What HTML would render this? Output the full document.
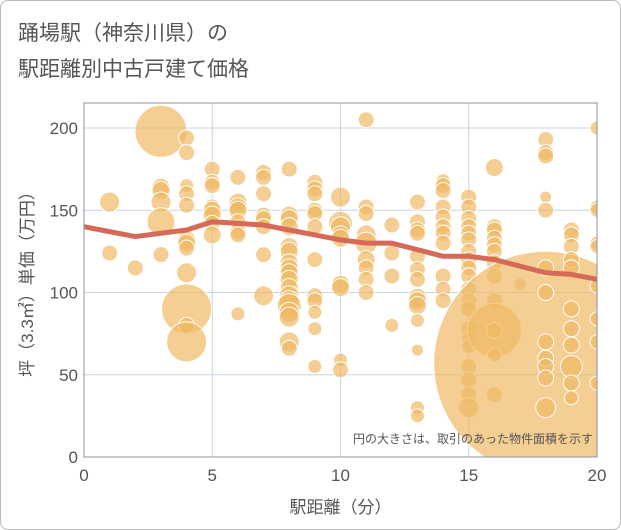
<!DOCTYPE html>
<html><head><meta charset="utf-8"><style>
body{margin:0;background:#fff;font-family:"Liberation Sans","Noto Sans CJK JP",sans-serif;}
#wrap{position:relative;width:619px;height:528px;border:1px solid #bbb;border-radius:8px;overflow:hidden;background:#fff}
.t{position:absolute;left:17px;color:#555;font-size:21px;}
</style></head><body>
<div id="wrap">
<div class="t" style="top:16px">踊場駅（神奈川県）の</div>
<div class="t" style="top:52px">駅距離別中古戸建て価格</div>
<svg id="c" width="621" height="530" style="position:absolute;left:-1px;top:-1px"></svg>
</div>
<script>
const pts=[
[1,155,10],[1,124,8],[2,115,8],
[3,198,26],[3,164,9],[3,162,9],[3,155,10],[3,143,14],[3,123,8],
[4,194,8],[4,185,8],[4,165,7],[4,160,8],[4,153,8],[4,132,9],[4,130,9],[4,127,8],[4,112,10],[4,90,25],[4,80,8],[4,70,20],
[5,175,8],[5,167,8],[5,165,8],[5,152,8],[5,150,9],[5,147,9],[5,142,8],[5,135,9],
[6,170,8],[6,155,9],[6,152,9],[6,150,9],[6,143,8],[6,137,8],[6,135,8],[6,87,7],
[7,173,8],[7,170,8],[7,160,8],[7,147,8],[7,145,8],[7,140,8],[7,123,8],[7,98,10],
[8,175,8],[8,147,9],[8,145,9],[8,140,9],[8,128,9],[8,125,9],[8,118,9],[8,115,9],[8,112,9],[8,108,9],[8,103,9],[8,98,10],[8,95,10],[8,92,12],[8,88,10],[8,85,10],[8,70,10],[8,66,8],
[9,167,8],[9,163,8],[9,160,8],[9,150,8],[9,148,8],[9,140,8],[9,120,8],[9,98,8],[9,95,8],[9,88,7],[9,78,7],[9,55,7],
[10,158,10],[10,142,12],[10,140,10],[10,135,9],[10,133,9],[10,105,9],[10,103,9],[10,59,7],[10,53,8],
[11,205,8],[11,152,8],[11,148,8],[11,135,10],[11,130,11],[11,120,9],[11,115,8],[11,108,8],[11,100,8],
[12,141,8],[12,124,8],[12,110,8],[12,80,7],
[13,155,8],[13,143,8],[13,138,8],[13,136,8],[13,122,8],[13,114,8],[13,108,8],[13,97,9],[13,95,9],[13,92,9],[13,83,7],[13,65,6],[13,30,7],[13,25,7],
[14,168,7],[14,165,8],[14,162,8],[14,152,8],[14,146,8],[14,140,8],[14,136,8],[14,130,8],[14,110,8],[14,102,8],[14,95,8],
[15,158,8],[15,152,8],[15,145,8],[15,140,8],[15,136,8],[15,132,8],[15,125,8],[15,120,8],[15,115,8],[15,110,8],[15,102,8],[15,95,8],[15,90,8],[15,78,8],[15,72,7],[15,67,7],[15,55,8],[15,47,8],[15,38,8],[15,30,10],
[16,176,9],[16,140,8],[16,138,8],[16,133,8],[16,129,8],[16,125,8],[16,118,8],[16,110,8],[16,95,8],[16,77,27],[16,77,8],[16,62,7],[16,38,8],
[17,105,6],
[18,57,112],[18,193,8],[18,185,8],[18,183,8],[18,158,6],[18,150,8],[18,115,8],[18,100,8],[18,70,8],[18,60,8],[18,55,8],[18,48,8],[18,30,10],
[19,138,8],[19,135,8],[19,128,8],[19,120,8],[19,115,8],[19,90,8],[19,78,8],[19,68,8],[19,55,11],[19,45,8],[19,36,7],
[20,200,7],[20,152,7],[20,150,7],[20,130,7],[20,128,7],[20,104,7],[20,84,7],[20,70,7],[20,45,7]];
const trendX=[0,1,2,3,4,5,6,7,8,9,10,11,12,13,14,15,16,17,18,19,20];
const trendY=[140,137,134,136,138,143,142,141,138,135,132,130,130,126,122,122,120,116,112,111,108];
const xTicks=[0,5,10,15,20];
const yTicks=[0,50,100,150,200];
const L=84,R=597,T=103,B=457;
const sx=v=>L+v*(R-L)/20, sy=v=>B-v*1.645;
const svg=document.getElementById('c');const NS='http://www.w3.org/2000/svg';
function mk(t,a,p){const e=document.createElementNS(NS,t);for(const k in a)e.setAttribute(k,a[k]);(p||svg).appendChild(e);return e;}
const defs=mk('defs',{});const cp=mk('clipPath',{id:'cp'},defs);mk('rect',{x:L,y:T,width:R-L,height:B-T},cp);
xTicks.forEach(v=>{const l=mk('line',{x1:sx(v),x2:sx(v),y1:T,y2:B,stroke:'#c8d4e0','stroke-width':1});

const t=mk('text',{x:sx(v),y:B+24,'text-anchor':'middle','font-size':17,fill:'#555'});t.textContent=v;
});
yTicks.forEach(v=>{const l=mk('line',{x1:L,x2:R,y1:sy(v),y2:sy(v),stroke:'#c8d4e0','stroke-width':1});

const t=mk('text',{x:L-6,y:sy(v)+6,'text-anchor':'end','font-size':17,fill:'#555'});t.textContent=v;
});
const g=mk('g',{'clip-path':'url(#cp)'});
pts.forEach(p=>{const c=mk('circle',{cx:sx(p[0]),cy:sy(p[1]),r:p[2],fill:'rgba(240,185,100,0.7)',stroke:'#fff','stroke-width':1},g);
});
const pl=mk('polyline',{points:trendX.map((x,i)=>sx(x)+','+sy(trendY[i])).join(' '),fill:'none',stroke:'#d66a58','stroke-width':5,'stroke-linejoin':'round'},g);

const fr=mk('rect',{x:L,y:T,width:R-L,height:B-T,fill:'none',stroke:'#8a949c','stroke-width':1});

const n=mk('text',{x:593,y:443,'text-anchor':'end','font-size':12,fill:'#555'});n.textContent='円の大きさは、取引のあった物件面積を示す';

const xt=mk('text',{x:(L+R)/2,y:513,'text-anchor':'middle','font-size':17,fill:'#555'});xt.textContent='駅距離（分）';

const yt=mk('text',{x:0,y:0,'text-anchor':'middle','font-size':17,fill:'#555',transform:`translate(33,${(T+B)/2}) rotate(-90)`});yt.textContent='坪（3.3㎡）単価（万円）';

</script>
</body></html>
